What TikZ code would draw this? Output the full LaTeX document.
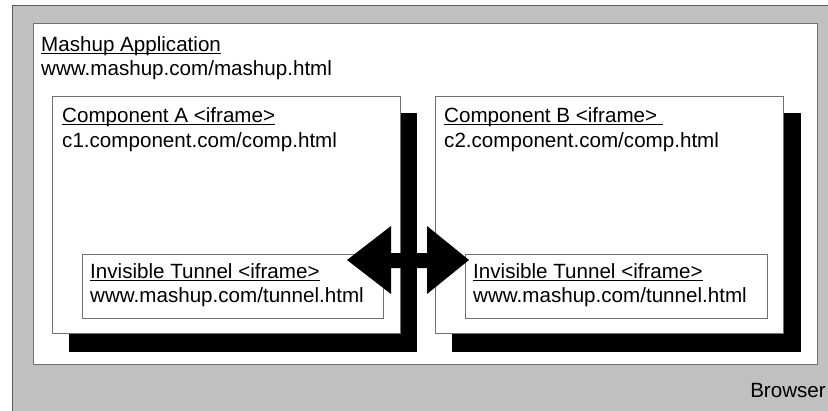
\documentclass[tikz,border=0pt]{standalone}
\usepackage{fontspec}
\setmainfont{Liberation Sans}
\newcommand\ulx[1]{\setbox0\hbox{#1}\rlap{\rule[-2.6pt]{\wd0}{0.9pt}}\box0}
\definecolor{browsergray}{HTML}{C0C0C0}
\definecolor{edgegray}{HTML}{707070}
\tikzset{
  frame/.style={rectangle, draw=edgegray, line width=1pt, fill=white, anchor=north west, inner sep=0pt},
  shadowbox/.style={rectangle, fill=black, anchor=north west, inner sep=0pt},
  label/.style={anchor=base west, inner sep=0pt, font=\fontsize{20.6}{24.6}\selectfont},
}
\begin{document}
\begin{tikzpicture}[x=1pt,y=-1pt]
\useasboundingbox (0,0) rectangle (828,410);
\clip (0,0) rectangle (828,410);
% browser
\node[rectangle, fill=browsergray, draw=edgegray!80!black, line width=1.4pt, anchor=north west, minimum width=840pt, minimum height=420pt, inner sep=0pt] (browser) at (12,5) {};
% mashup
\node[frame, minimum width=784pt, minimum height=341pt] (mashup) at (33,23) {};
% shadows
\node[shadowbox, minimum width=348pt, minimum height=239pt] (shadowA) at (69,113) {};
\node[shadowbox, minimum width=349pt, minimum height=239pt] (shadowB) at (452,113) {};
% components
\node[frame, minimum width=348pt, minimum height=237pt] (compA) at (52,96) {};
\node[frame, minimum width=348pt, minimum height=237pt] (compB) at (435,96) {};
% tunnels
\node[frame, minimum width=301pt, minimum height=64pt] (tunA) at (82,254) {};
\node[frame, minimum width=302pt, minimum height=64pt] (tunB) at (465,254) {};
% texts
\node[label] (mtitle) at (41,51) {\ulx{Mashup Application}};
\node[label] (murl) at (41,75) {www.mashup.com/mashup.html};
\node[label] (atitle) at (62,122) {\ulx{Component A <iframe>}};
\node[label] (aurl) at (62,147) {c1.component.com/comp.html};
\node[label] (btitle) at (444,122) {\ulx{Component B <iframe> }};
\node[label] (burl) at (444,147) {c2.component.com/comp.html};
\node[label] (tatitle) at (90,278) {\ulx{Invisible Tunnel <iframe>}};
\node[label] (taurl) at (90,302) {www.mashup.com/tunnel.html};
\node[label] (tbtitle) at (473,278) {\ulx{Invisible Tunnel <iframe>}};
\node[label] (tburl) at (473,302) {www.mashup.com/tunnel.html};
\node[label, anchor=base east] (browsertext) at (826,397) {Browser};
% double block arrow between the tunnels
\fill[black] (347,260) -- (391,226) -- (391,253) -- (427,253) -- (427,226) -- (469,260)
  -- (427,294) -- (427,268) -- (391,268) -- (391,294) -- cycle;
\end{tikzpicture}
\end{document}
